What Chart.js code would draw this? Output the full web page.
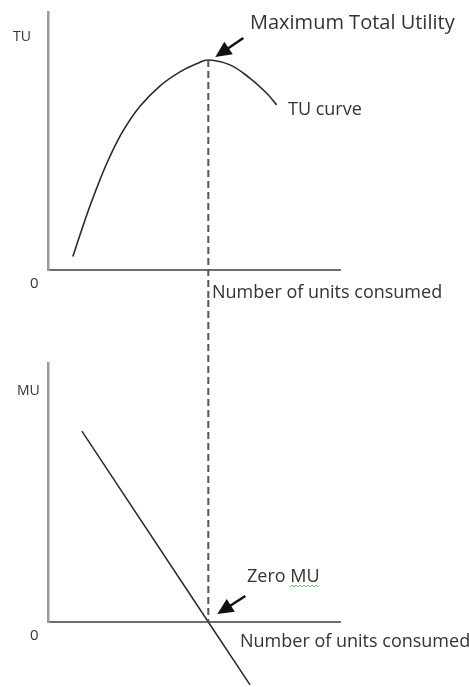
<!DOCTYPE html>
<html><head><meta charset="utf-8">
<script src="https://cdn.jsdelivr.net/npm/chart.js@4/dist/chart.umd.min.js"></script>
<style>
html,body{margin:0;padding:0;background:#fff;overflow:hidden}
#wrap{position:relative;width:469px;height:687px;background:#fff}
.pane{position:absolute;left:0;width:469px}
</style></head><body>
<div id="wrap">
 <div class="pane" style="top:0;height:300px"><canvas id="tu" width="469" height="300"></canvas></div>
 <div class="pane" style="top:300px;height:387px"><canvas id="mu" width="469" height="387"></canvas></div>
</div>
<script>
// ---- data (arbitrary units) ----
const unitsTU  = [0.85, 1.10, 1.44, 1.78, 2.12, 2.58, 3.15, 3.84, 4.52, 5.09, 5.49, 6.23, 6.92, 7.49, 7.83];
const valuesTU = [0.52, 1.38, 2.49, 3.50, 4.40, 5.41, 6.35, 7.14, 7.68, 7.99, 8.14, 7.95, 7.43, 6.85, 6.40];
const unitsMU  = [1.16, 5.49, 6.92];
const valuesMU = [7.37, 0.00, -2.43];
const axisLabelsTU = ["TU", "0", "Number of units consumed"];
const axisLabelsMU = ["MU", "0", "Number of units consumed"];
const noteTU = ["Maximum Total Utility", "TU curve"];
const noteMU = ["Zero MU"];

const peakIdx = valuesTU.indexOf(Math.max(...valuesTU));
const peakX = unitsTU[peakIdx], peakY = valuesTU[peakIdx];

const FONT = '"Open Sans", "Liberation Sans", sans-serif';
const TEXT = '#333';

function drawArrow(ctx, x1, y1, x2, y2) {
  const a = Math.atan2(y2 - y1, x2 - x1), L = 16, W = 7.5;
  const cx = Math.cos(a), sx = Math.sin(a);
  ctx.save();
  ctx.strokeStyle = '#111'; ctx.fillStyle = '#111'; ctx.lineWidth = 2.5; ctx.setLineDash([]);
  ctx.beginPath(); ctx.moveTo(x1, y1); ctx.lineTo(x2 - L * 0.7 * cx, y2 - L * 0.7 * sx); ctx.stroke();
  ctx.beginPath();
  ctx.moveTo(x2, y2);
  ctx.lineTo(x2 - L * cx - W * sx, y2 - L * sx + W * cx);
  ctx.lineTo(x2 - L * cx + W * sx, y2 - L * sx - W * cx);
  ctx.closePath(); ctx.fill();
  ctx.restore();
}
function txt(ctx, s, x, y, size) {
  ctx.save(); ctx.font = size + 'px ' + FONT; ctx.fillStyle = TEXT;
  ctx.textBaseline = 'alphabetic'; ctx.textAlign = 'left';
  ctx.fillText(s, x, y); ctx.restore();
}
function dashed(ctx, x, y1, y2) {
  ctx.save(); ctx.strokeStyle = '#555'; ctx.lineWidth = 2; ctx.setLineDash([7, 4]);
  ctx.beginPath(); ctx.moveTo(x, y1); ctx.lineTo(x, y2); ctx.stroke(); ctx.restore();
}

function baseOptions(pad) {
  return {
    responsive: false, animation: false, devicePixelRatio: 1,
    layout: { padding: pad },
    plugins: { legend: { display: false }, tooltip: { enabled: false } },
    scales: {
      x: { type: 'linear', min: 0, max: 10,
           grid: { display: false, drawTicks: false }, ticks: { display: false },
           border: { display: true, color: '#6e6e6e', width: 2 } },
      y: { type: 'linear', min: 0, max: 10,
           grid: { display: false, drawTicks: false }, ticks: { display: false },
           border: { display: true, color: '#9a9a9a', width: 2.5 } }
    }
  };
}

const tuOverlay = {
  id: 'tuOverlay',
  afterDraw(chart) {
    const ctx = chart.ctx, xs = chart.scales.x, ys = chart.scales.y;
    const px = xs.getPixelForValue(peakX), py = ys.getPixelForValue(peakY);
    dashed(ctx, px, py, chart.height);
    drawArrow(ctx, px + 35, py - 22, px + 7, py - 3);
    txt(ctx, axisLabelsTU[0], 13, 41, 14);
    txt(ctx, axisLabelsTU[1], 30, 288, 15);
    txt(ctx, axisLabelsTU[2], 212, 298, 18);
    txt(ctx, noteTU[0], 250, 29, 20);
    txt(ctx, noteTU[1], 288, 115, 18);
  }
};
const muOverlay = {
  id: 'muOverlay',
  afterDraw(chart) {
    const ctx = chart.ctx, xs = chart.scales.x, ys = chart.scales.y;
    const px = xs.getPixelForValue(peakX), py = ys.getPixelForValue(0);
    dashed(ctx, px, 0, py);
    drawArrow(ctx, px + 37, py - 26, px + 9, py - 8);
    txt(ctx, axisLabelsMU[0], 17, 95, 14);
    txt(ctx, axisLabelsMU[1], 30, 340, 15);
    txt(ctx, axisLabelsMU[2], 240, 347, 18);
    txt(ctx, noteMU[0], 247, 282, 18);
    // spell-check squiggle under "MU"
    ctx.save(); ctx.font = '18px ' + FONT;
    const x0 = 247 + ctx.measureText('Zero ').width, w = ctx.measureText('MU').width;
    ctx.strokeStyle = '#5bb05b'; ctx.lineWidth = 1; ctx.beginPath();
    for (let i = 0; i <= w; i += 2) { const yy = 286 + ((i / 2) % 2 ? -1 : 1); i === 0 ? ctx.moveTo(x0 + i, yy) : ctx.lineTo(x0 + i, yy); }
    ctx.stroke(); ctx.restore();
  }
};

new Chart(document.getElementById('tu'), {
  type: 'line',
  data: { datasets: [{
    data: unitsTU.map((u, i) => ({ x: u, y: valuesTU[i] })),
    borderColor: '#2a2a2a', borderWidth: 1.6, pointRadius: 0,
    tension: 0.4, fill: false, clip: false
  }]},
  options: baseOptions({ left: 48, top: 12, right: 129, bottom: 30 }),
  plugins: [tuOverlay]
});

new Chart(document.getElementById('mu'), {
  type: 'line',
  data: { datasets: [{
    data: unitsMU.map((u, i) => ({ x: u, y: valuesMU[i] })),
    borderColor: '#2a2a2a', borderWidth: 1.5, pointRadius: 0,
    tension: 0, fill: false, clip: false
  }]},
  options: baseOptions({ left: 48, top: 63, right: 129, bottom: 65 }),
  plugins: [muOverlay]
});
</script>
</body></html>
